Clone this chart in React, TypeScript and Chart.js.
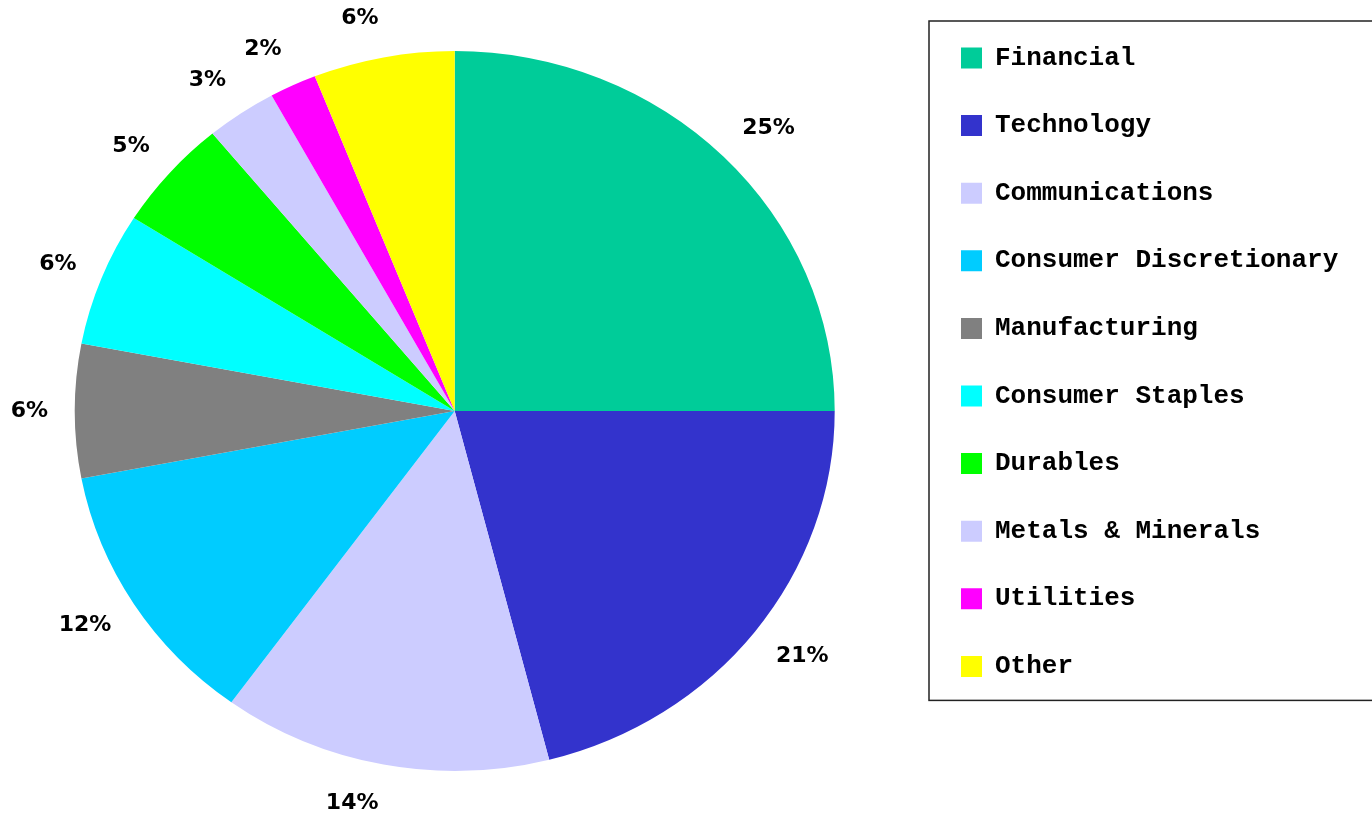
import React, { useEffect, useRef } from 'react';
import { Chart, registerables } from 'chart.js';

Chart.register(...registerables);

const categories = [
  'Financial',
  'Technology',
  'Communications',
  'Consumer Discretionary',
  'Manufacturing',
  'Consumer Staples',
  'Durables',
  'Metals & Minerals',
  'Utilities',
  'Other',
];
const shares = [25, 21, 14, 12, 6, 6, 5, 3, 2, 6];
const sliceColors = [
  '#00CC99',
  '#3333CC',
  '#CCCCFF',
  '#00CCFF',
  '#808080',
  '#00FFFF',
  '#00FF00',
  '#CCCCFF',
  '#FF00FF',
  '#FFFF00',
];

const X_STRETCH = 380 / 360;
const LEGEND_FONT_FAMILY = '"Liberation Mono", monospace';
const LEGEND_FONT_SIZE = 26;
const LEGEND_PAD = 41.6;
const LEGEND_BOX_W = 21;
const CANVAS_W = 1400;
const CANVAS_H = 820;
const CANVAS_LEFT = -10;
const LEGEND_LEFT = 929.4;

const pieDecor = {
  id: 'pieDecor',
  beforeDatasetsDraw(chart: any) {
    const arc = chart.getDatasetMeta(0).data[0];
    const ctx = chart.ctx;
    ctx.save();
    if (arc) {
      ctx.translate(arc.x, arc.y);
      ctx.scale(X_STRETCH, 1);
      ctx.translate(-arc.x, -arc.y);
    }
  },
  afterDatasetsDraw(chart: any) {
    const ctx = chart.ctx;
    ctx.restore();
    const meta = chart.getDatasetMeta(0);
    const vals = chart.data.datasets[0].data as number[];
    const total = vals.reduce((a, b) => a + b, 0);
    ctx.save();
    ctx.font = 'bold 22px "DejaVu Sans", sans-serif';
    ctx.fillStyle = '#000';
    ctx.textBaseline = 'middle';
    meta.data.forEach((arc: any, i: number) => {
      const mid = (arc.startAngle + arc.endAngle) / 2;
      const r = arc.outerRadius;
      const c = Math.cos(mid);
      const s = Math.sin(mid);
      const x = arc.x + c * r * X_STRETCH * 1.07;
      const y = arc.y + s * r * 1.11;
      ctx.textAlign = c < -0.01 ? 'right' : 'left';
      const txt = Math.round((vals[i] / total) * 100) + '%';
      ctx.fillText(txt, x, y);
    });
    ctx.restore();
  },
  afterDraw(chart: any) {
    const lg = chart.legend;
    if (!lg || !lg.legendHitBoxes || !lg.legendHitBoxes.length) return;
    const hb = lg.legendHitBoxes;
    const first = hb[0];
    const last = hb[hb.length - 1];
    const ctx = chart.ctx;
    const left = first.left - 32;
    const top = first.top + first.height / 2 - 37;
    const bottom = last.top + last.height / 2 + 34;
    ctx.save();
    ctx.strokeStyle = '#222';
    ctx.lineWidth = 1.5;
    ctx.strokeRect(left, top, chart.width + 20 - left, bottom - top);
    ctx.restore();
  },
};

export default function App() {
  const ref = useRef<HTMLCanvasElement | null>(null);

  useEffect(() => {
    const canvas = ref.current;
    if (!canvas) return;
    const m = document.createElement('canvas').getContext('2d')!;
    m.font = `bold ${LEGEND_FONT_SIZE}px ${LEGEND_FONT_FAMILY}`;
    const textW = Math.max(...categories.map((c) => m.measureText(c).width));
    const legendW = LEGEND_PAD + LEGEND_BOX_W + LEGEND_FONT_SIZE / 2 + textW + 10;
    const padRight = Math.max(0, CANVAS_W - LEGEND_LEFT - legendW);

    const chart = new Chart(canvas, {
      type: 'pie',
      data: {
        labels: categories,
        datasets: [
          {
            data: shares,
            backgroundColor: sliceColors,
            borderWidth: 0,
            radius: 360,
            clip: false,
          } as any,
        ],
      },
      options: {
        animation: false,
        responsive: false,
        layout: {
          padding: { top: 3.4, bottom: 1.4, left: 0, right: padRight },
        },
        plugins: {
          tooltip: { enabled: false },
          legend: {
            position: 'right',
            align: 'start',
            labels: {
              boxWidth: LEGEND_BOX_W,
              boxHeight: 21,
              padding: LEGEND_PAD,
              color: '#000',
              font: { family: LEGEND_FONT_FAMILY, size: LEGEND_FONT_SIZE, weight: 'bold' },
            },
          },
        },
      } as any,
      plugins: [pieDecor],
    });
    return () => chart.destroy();
  }, []);

  return (
    <div
      style={{
        position: 'absolute',
        left: 0,
        top: 0,
        width: 1372,
        height: 814,
        overflow: 'hidden',
        background: '#fff',
      }}
    >
      <canvas
        ref={ref}
        width={CANVAS_W}
        height={CANVAS_H}
        style={{ position: 'absolute', left: CANVAS_LEFT, top: 0, width: CANVAS_W, height: CANVAS_H }}
      />
    </div>
  );
}
